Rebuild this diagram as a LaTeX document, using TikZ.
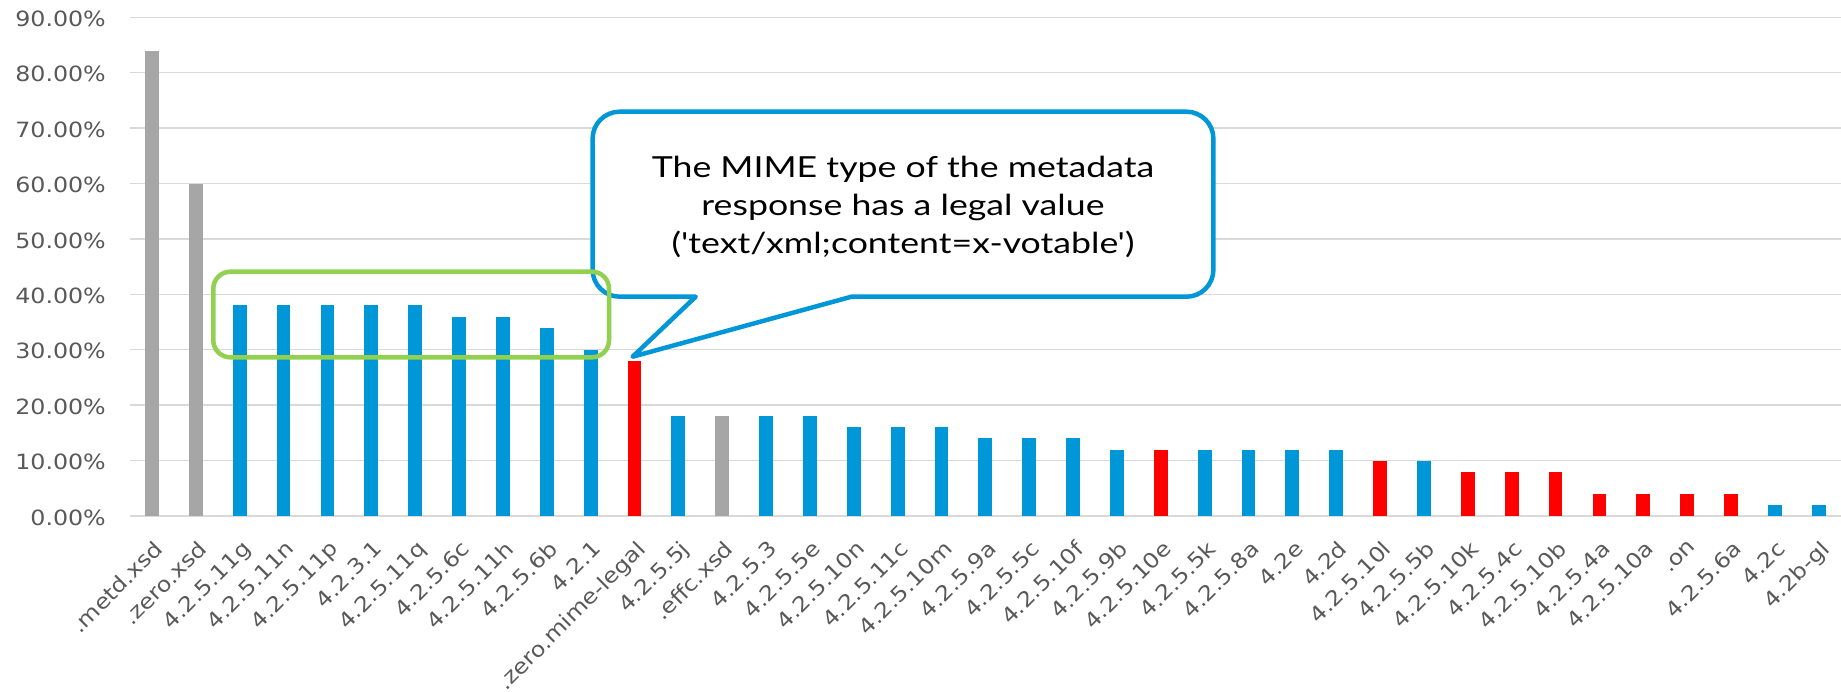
\documentclass[tikz,border=0pt]{standalone}
\usepackage{fontspec}
\setmainfont{DejaVu Sans}
\newfontfamily\axisfont[FakeStretch=1.13]{DejaVu Sans}
\newfontfamily\notefont[FakeStretch=1.23]{Lato}
\definecolor{barBlue}{HTML}{0097D8}
\definecolor{barGray}{HTML}{A6A6A6}
\definecolor{barRed}{HTML}{FF0000}
\definecolor{boxGreen}{HTML}{92D050}
\definecolor{gridGray}{HTML}{D9D9D9}
\definecolor{axisText}{HTML}{595959}
\tikzset{
  gridline/.style={draw=gridGray, line width=1.4pt},
  ylab/.style={text=axisText, anchor=east, inner sep=0pt, font=\axisfont\fontsize{21}{25}\selectfont},
  xlab/.style={text=axisText, anchor=north east, inner sep=0pt, rotate=45, font=\axisfont\fontsize{21}{25}\selectfont},
  calloutbox/.style={draw=barBlue, fill=white, line width=4.5pt, line join=round},
  greenbox/.style={draw=boxGreen, line width=4.5pt, rounded corners=17pt},
  notetext/.style={align=center, text=black, inner sep=0pt, font=\notefont\fontsize{29}{38}\selectfont}
}
\begin{document}
\begin{tikzpicture}[x=1pt,y=-1pt]
\useasboundingbox[fill=white] (0,0) rectangle (1841,692);
% grid and y labels
\foreach \k in {0,...,9} {
  \pgfmathsetmacro\gy{516-55.41*\k}
  \pgfmathtruncatemacro\pc{10*\k}
  \coordinate (gl\k) at (130,\gy);
  \coordinate (gr\k) at (1841,\gy);
  \draw[gridline] (gl\k) -- (gr\k);
  \node[ylab] (ylab\k) at (106,\gy+1.5) {\pc.00\%};
}
% bars and x labels
\foreach \v/\c/\t [count=\n from 0] in {
  84/barGray/.metd.xsd, 60/barGray/.zero.xsd, 38/barBlue/4.2.5.11g, 38/barBlue/4.2.5.11n,
  38/barBlue/4.2.5.11p, 38/barBlue/4.2.3.1, 38/barBlue/4.2.5.11q, 36/barBlue/4.2.5.6c,
  36/barBlue/4.2.5.11h, 34/barBlue/4.2.5.6b, 30/barBlue/4.2.1, 28/barRed/.zero.mime-legal,
  18/barBlue/4.2.5.5j, 18/barGray/.effc.xsd, 18/barBlue/4.2.5.3, 18/barBlue/4.2.5.5e,
  16/barBlue/4.2.5.10n, 16/barBlue/4.2.5.11c, 16/barBlue/4.2.5.10m, 14/barBlue/4.2.5.9a,
  14/barBlue/4.2.5.5c, 14/barBlue/4.2.5.10f, 12/barBlue/4.2.5.9b, 12/barRed/4.2.5.10e,
  12/barBlue/4.2.5.5k, 12/barBlue/4.2.5.8a, 12/barBlue/4.2e, 12/barBlue/4.2d,
  10/barRed/4.2.5.10l, 10/barBlue/4.2.5.5b, 8/barRed/4.2.5.10k, 8/barRed/4.2.5.4c,
  8/barRed/4.2.5.10b, 4/barRed/4.2.5.4a, 4/barRed/4.2.5.10a, 4/barRed/.on,
  4/barRed/4.2.5.6a, 2/barBlue/4.2c, 2/barBlue/4.2b-gl} {
  \pgfmathsetmacro\cx{152+43.86*\n}
  \pgfmathsetmacro\bt{516-5.541*\v}
  \fill[\c] (\cx-6.9,\bt) rectangle (\cx+6.9,516);
  \coordinate (bar\n) at (\cx,\bt);
  \node[xlab] (xlab\n) at (\cx+1,539) {\t};
}
% callout
\coordinate (tip) at (632.6,356.7);
\draw[calloutbox] (695.7,296.7) -- (619.6,296.7)
  .. controls (604.7,296.7) and (592.6,284.6) .. (592.6,269.7)
  -- (592.6,138.7) .. controls (592.6,123.8) and (604.7,111.7) .. (619.6,111.7)
  -- (1186.4,111.7) .. controls (1201.3,111.7) and (1213.4,123.8) .. (1213.4,138.7)
  -- (1213.4,269.7) .. controls (1213.4,284.6) and (1201.3,296.7) .. (1186.4,296.7)
  -- (851.5,296.7) -- (tip) -- cycle;
\node[notetext] (note) at (903,207) {The MIME type of the metadata\\response has a legal value\\('text/xml;content=x-votable')};
% green highlight
\draw[greenbox] (213.3,271.7) rectangle (609,357.3);
\end{tikzpicture}
\end{document}
